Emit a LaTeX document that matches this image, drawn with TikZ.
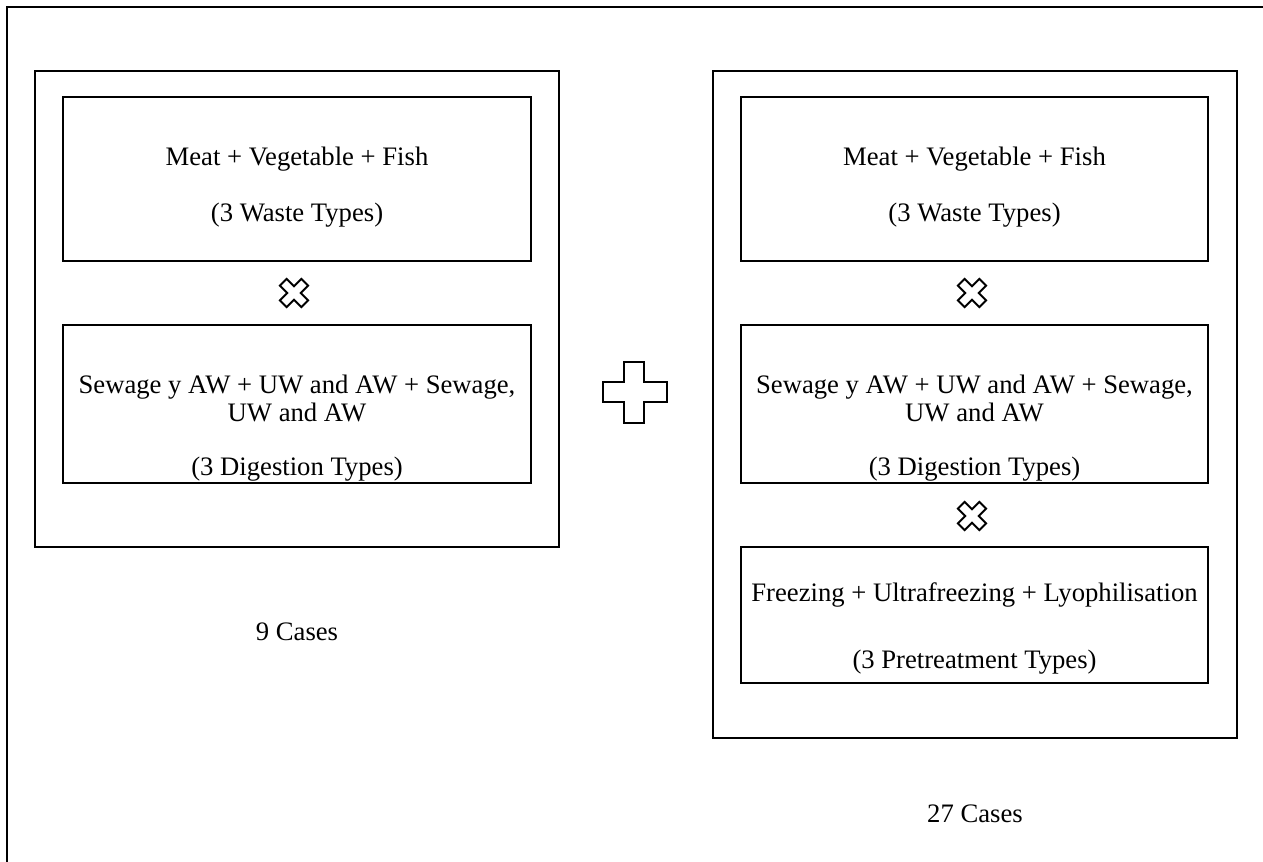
\documentclass[tikz,border=0pt]{standalone}
\usepackage{fontspec}
\setmainfont{Liberation Serif}
\begin{document}
\begin{tikzpicture}[x=0.75pt,y=-0.75pt,
  frame/.style={draw, line width=1.5pt, inner sep=0pt, outer sep=0pt},
  txt/.style={anchor=base, inner sep=0pt, font=\fontsize{20}{24}\selectfont},
  sym/.style={draw, line width=1.4pt, line join=miter},
  xmark/.pic={\draw[sym, rotate=45] (-4.8,-15.2) -- (4.8,-15.2) -- (4.8,-4.8) -- (15.2,-4.8) -- (15.2,4.8) -- (4.8,4.8) -- (4.8,15.2) -- (-4.8,15.2) -- (-4.8,4.8) -- (-15.2,4.8) -- (-15.2,-4.8) -- (-4.8,-4.8) -- cycle;}]
\useasboundingbox (0,0) rectangle (1263,861);
\clip (0,0) rectangle (1263,861);
% outer frame (extends beyond the page on right and bottom)
\node[frame, minimum width=1300*0.75pt, minimum height=900*0.75pt, anchor=north west] (page) at (6.5,6.5) {};
% left group
\node[frame, minimum width=524*0.75pt, minimum height=476*0.75pt] (L) at (297,308.7) {};
\node[frame, minimum width=468*0.75pt, minimum height=163.7*0.75pt] (L1) at (297,178.85) {};
\node[frame, minimum width=468*0.75pt, minimum height=157.7*0.75pt] (L2) at (297,403.85) {};
\node[txt] (L1a) at (297,165) {Meat + Vegetable + Fish};
\node[txt] (L1b) at (297,221) {(3 Waste Types)};
\node[txt] (L2a) at (297,393) {Sewage y AW + UW and AW + Sewage,};
\node[txt] (L2b) at (297,421) {UW and AW};
\node[txt] (L2c) at (297,475) {(3 Digestion Types)};
\node[txt] (Lc) at (297,640) {9 Cases};
\pic at (294,293) {xmark};
% plus
\draw[sym, line width=1.5pt] (624,362) -- (644,362) -- (644,382) -- (667,382) -- (667,402) -- (644,402) -- (644,423) -- (624,423) -- (624,402) -- (603,402) -- (603,382) -- (624,382) -- cycle;
% right group
\node[frame, minimum width=524*0.75pt, minimum height=667.3*0.75pt] (R) at (975,404.35) {};
\node[frame, minimum width=467*0.75pt, minimum height=163.7*0.75pt] (R1) at (974.5,178.85) {};
\node[frame, minimum width=467*0.75pt, minimum height=157.7*0.75pt] (R2) at (974.5,403.85) {};
\node[frame, minimum width=467*0.75pt, minimum height=136.3*0.75pt] (R3) at (974.5,614.85) {};
\node[txt] (R1a) at (974.5,165) {Meat + Vegetable + Fish};
\node[txt] (R1b) at (974.5,221) {(3 Waste Types)};
\node[txt] (R2a) at (974.5,393) {Sewage y AW + UW and AW + Sewage,};
\node[txt] (R2b) at (974.5,421) {UW and AW};
\node[txt] (R2c) at (974.5,475) {(3 Digestion Types)};
\node[txt] (R3a) at (974.5,601) {Freezing + Ultrafreezing + Lyophilisation};
\node[txt] (R3b) at (974.5,668) {(3 Pretreatment Types)};
\node[txt] (Rc) at (975,822) {27 Cases};
\pic at (972,293) {xmark};
\pic at (972,516) {xmark};
\end{tikzpicture}
\end{document}
